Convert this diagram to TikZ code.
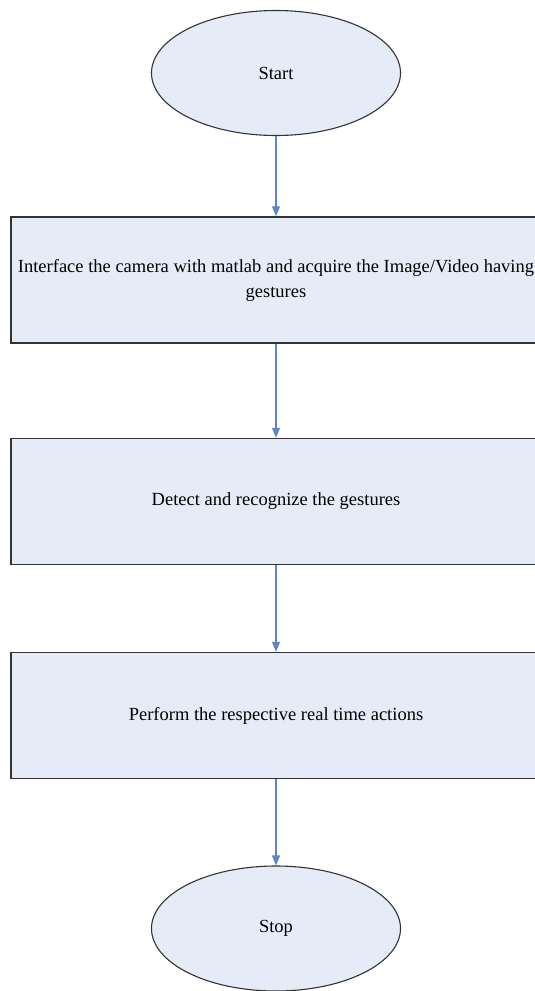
\documentclass[tikz,border=0pt]{standalone}
\usepackage{fontspec}
\setmainfont{Liberation Serif}
\usetikzlibrary{shapes.geometric,arrows.meta}
\definecolor{fillblue}{HTML}{E6ECF7}
\definecolor{edgegray}{HTML}{333333}
\definecolor{arrowblue}{HTML}{5B86C8}
\tikzset{
  term/.style={ellipse, draw=edgegray, line width=1.1pt, fill=fillblue, minimum width=249pt, minimum height=125pt, inner sep=0pt, font=\fontsize{18.5}{25}\selectfont},
  procbox/.style={rectangle, draw=edgegray, line width=1.5pt, fill=fillblue, minimum width=530pt, minimum height=126pt, inner sep=0pt, align=center, font=\fontsize{18.5}{25}\selectfont},
  flow/.style={draw=arrowblue, line width=1.1pt, -{Triangle[length=10pt,width=8pt]}}
}
\begin{document}
\begin{tikzpicture}[x=1pt,y=-1pt]
\useasboundingbox (0,0) rectangle (535,991);
\node[term] (start) at (276,73) {Start};
\node[procbox] (p1) at (276,280) {Interface the camera with matlab and acquire the Image/Video having\\gestures};
\node[procbox] (p2) at (276,501.5) {Detect and recognize the gestures};
\node[procbox] (p3) at (276,715.5) {Perform the respective real time actions};
\node[term] (stop) at (276,928.5) {Stop};
\draw[flow] (start.south) -- (p1.north);
\draw[flow] (p1.south) -- (p2.north);
\draw[flow] (p2.south) -- (p3.north);
\draw[flow] (p3.south) -- (stop.north);
\end{tikzpicture}
\end{document}
